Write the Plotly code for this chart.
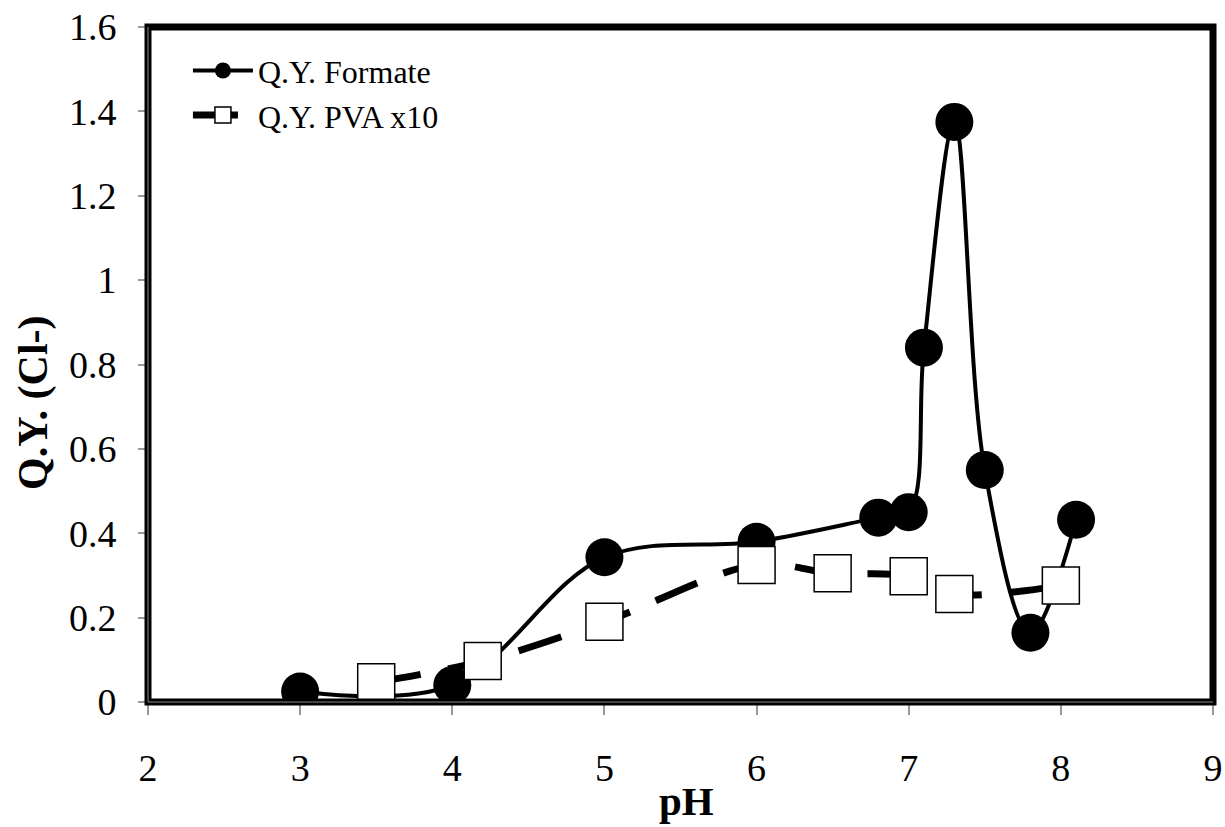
import plotly.graph_objects as go

# Data
formate_ph = [3, 4, 5, 6, 6.8, 7, 7.1, 7.3, 7.5, 7.8, 8.1]
formate_qy = [0.025, 0.04, 0.343, 0.38, 0.437, 0.45, 0.84, 1.375, 0.55, 0.164, 0.432]
pva_ph = [3.5, 4.2, 5, 6, 6.5, 7, 7.3, 8]
pva_qy = [0.047, 0.097, 0.19, 0.325, 0.305, 0.298, 0.256, 0.276]
x_ticks = [2, 3, 4, 5, 6, 7, 8, 9]
y_ticks = [0, 0.2, 0.4, 0.6, 0.8, 1, 1.2, 1.4, 1.6]

FONT = "Liberation Serif"

fig = go.Figure()
fig.add_trace(go.Scatter(
    x=formate_ph, y=formate_qy, name="Q.Y. Formate",
    mode="lines+markers",
    line=dict(color="black", width=4, shape="spline", smoothing=1),
    marker=dict(symbol="circle", size=38, color="black"),
))
fig.add_trace(go.Scatter(
    x=pva_ph, y=pva_qy, name="Q.Y. PVA x10",
    mode="lines+markers",
    line=dict(color="black", width=7, shape="spline", smoothing=1, dash="45px,28px"),
    marker=dict(symbol="square", size=37, color="white",
                line=dict(color="black", width=1.5)),
))

fig.update_layout(
    width=1225, height=827,
    margin=dict(l=148, r=12, t=27, b=125, autoexpand=False),
    paper_bgcolor="white", plot_bgcolor="white",
    font=dict(family=FONT, color="black", size=38),
    showlegend=True,
    legend=dict(x=0.0375, y=0.976, xanchor="left", yanchor="top",
                bgcolor="rgba(0,0,0,0)", font=dict(size=32, family=FONT),
                itemwidth=60, tracegroupgap=0),
    xaxis=dict(range=[2, 9], tickvals=x_ticks, ticks="outside", ticklen=12,
               tickcolor="#999999", tickwidth=1.5, showgrid=False, zeroline=False,
               showline=False, tickfont=dict(size=38, family=FONT),
               ticklabelstandoff=20, ticklabeloverflow="allow", automargin=False),
    yaxis=dict(range=[0, 1.6], tickvals=y_ticks, ticks="outside", ticklen=9,
               tickcolor="#999999", tickwidth=1.5, showgrid=False, zeroline=False,
               showline=False, tickfont=dict(size=38, family=FONT),
               ticklabelstandoff=14, ticklabeloverflow="allow", automargin=False),
    shapes=[
        dict(type="rect", xref="paper", yref="paper", x0=0, y0=0, x1=1, y1=1,
             line=dict(color="black", width=7), layer="above"),
        dict(type="line", xref="paper", yref="paper", x0=0, y0=0, x1=1, y1=0,
             line=dict(color="#888888", width=1), layer="above"),
        dict(type="line", xref="paper", yref="paper", x0=0, y0=0, x1=0, y1=1,
             line=dict(color="#888888", width=1), layer="above"),
    ],
    annotations=[
        dict(text="<b>pH</b>", xref="paper", yref="paper", x=0.506, y=-0.147,
             xanchor="center", yanchor="middle", showarrow=False,
             font=dict(size=41, family=FONT)),
        dict(text="<b>Q.Y. (Cl-)</b>", xref="paper", yref="paper", x=-0.107, y=0.443,
             xanchor="center", yanchor="middle", showarrow=False, textangle=-90,
             font=dict(size=42, family=FONT)),
    ],
)

fig.write_html(
    "out.html",
    config={"displayModeBar": False},
    post_script="document.body.style.margin='0';document.body.style.overflow='hidden';"
                "document.documentElement.style.overflow='hidden';",
)
